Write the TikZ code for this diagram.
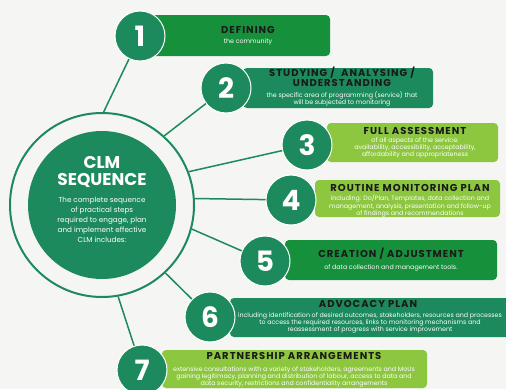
\documentclass[tikz,border=0pt]{standalone}
\usepackage{fontspec}
\setmainfont{Poppins}
\newfontfamily\titlefont[LetterSpace=10]{Poppins}
\definecolor{clmteal}{HTML}{1C8A5C}
\definecolor{clmgreen}{HTML}{17903C}
\definecolor{clmlime}{HTML}{8DC63F}
\definecolor{clmback}{HTML}{F5F5F3}
\definecolor{clmink}{HTML}{1A1A1A}
\tikzset{
  stepbox/.style={rectangle, rounded corners=4pt, inner sep=0pt},
  numdisc/.style={circle, fill=clmteal, draw=white, line width=1pt, minimum size=50pt,
    inner sep=0pt, text=white, font=\fontsize{28}{28}\selectfont\bfseries},
  steptitle/.style={align=center, text=clmink, inner sep=0pt, font=\titlefont\fontsize{10}{10}\selectfont\bfseries},
  stepnote/.style={align=center, text=white, inner sep=0pt, font=\fontsize{6.3}{7.4}\selectfont},
}
\begin{document}
\begin{tikzpicture}[x=1pt,y=-1pt]

      \useasboundingbox[fill=clmback] (0,0) rectangle (506,389);
      \clip (0,0) rectangle (506,389);

      % step boxes
      \begin{scope}[every node/.style={stepbox}]
        \node[fill=clmgreen, minimum width=180pt, minimum height=41pt] (b1) at (240,35.5)  {};
        \node[fill=clmteal,  minimum width=190pt, minimum height=40pt] (b2) at (338,88)    {};
        \node[fill=clmlime,  minimum width=171pt, minimum height=39pt] (b3) at (412.5,142.5) {};
        \node[fill=clmlime,  minimum width=185pt, minimum height=37pt] (b4) at (407.5,198.5) {};
        \node[fill=clmgreen, minimum width=212pt, minimum height=40pt] (b5) at (391,260)   {};
        \node[fill=clmteal,  minimum width=290pt, minimum height=39pt] (b6) at (375,317.5) {};
        \node[fill=clmlime,  minimum width=265pt, minimum height=38pt] (b7) at (294.5,369) {};
      \end{scope}

      % centre
      \node[circle, draw=clmteal, line width=2pt, minimum size=184pt] (ring) at (102,205) {};
      \node[circle, fill=clmteal, minimum size=148pt] (core) at (102,205) {};
      \node[align=center, text=white, inner sep=0pt,
            font=\fontsize{17}{16.5}\selectfont\bfseries] (clm) at (102,172) {CLM\\SEQUENCE};
      \node[align=center, text=white, inner sep=0pt,
            font=\fontsize{7.2}{10}\selectfont] (intro) at (102,220)
            {The complete sequence\\of practical steps\\required to engage, plan\\and implement effective\\CLM includes:};

      \begin{scope}[every node/.style={numdisc}]
        \node (1) at (140,36)  {1};
        \node (2) at (226,88)  {2};
        \node (3) at (307,145) {3};
        \node (4) at (291,200) {4};
        \node (5) at (265,261) {5};
        \node (6) at (210,317) {6};
        \node (7) at (142,370) {7};
      \end{scope}

      \begin{scope}[every edge/.style={draw=clmteal, line width=1.5pt}]
        \path (ring.89)  edge (1);
        \path (ring.48)  edge (2);
        \path (ring.21)  edge (3);
        \path (ring.4)   edge (4);
        \path (ring.-15) edge (5);
        \path (ring.-47) edge (6);
        \path (ring.-80) edge (7);
      \end{scope}

      % step texts
      \begin{scope}[every node/.style={steptitle}]
        \node (t1) at (248,30) {DEFINING};
        \node (t2) at (342,76.5) {STUDYING / \ ANALYSING /\\UNDERSTANDING};
        \node (t3) at (415,131)  {FULL ASSESSMENT};
        \node (t4) at (410,188) {ROUTINE MONITORING PLAN};
        \node (t5) at (391,254) {CREATION / ADJUSTMENT};
        \node (t6) at (368,304) {ADVOCACY PLAN};
        \node (t7) at (294,356)  {PARTNERSHIP ARRANGEMENTS};
      \end{scope}

      \begin{scope}[every node/.style={stepnote}]
        \node (d1) at (248,42) {the community};
        \node (d2) at (342,99) {the specific area of programming (service) that\\will be subjected to monitoring};
        \node (d3) at (415,148)  {of all aspects of the service:\\availability, accessibility, acceptability,\\affordability and appropriateness};
        \node (d4) at (410,206) {including: Do/Plan, Templates, data collection and\\management, analysis, presentation and follow-up\\of findings and recommendations};
        \node (d5) at (391,267.5)  {of data collection and management tools.};
        \node (d6) at (370,323) {including identification of desired outcomes, stakeholders, resources and processes\\to access the required resources, links to monitoring mechanisms and\\reassessment of progress with service improvement};
        \node (d7) at (294,377) {extensive consultations with a variety of stakeholders, agreements and MoUs\\gaining legitimacy, planning and distribution of labour, access to data and\\data security, restrictions and confidentiality arrangements};
      \end{scope}

    \end{tikzpicture}
\end{document}
